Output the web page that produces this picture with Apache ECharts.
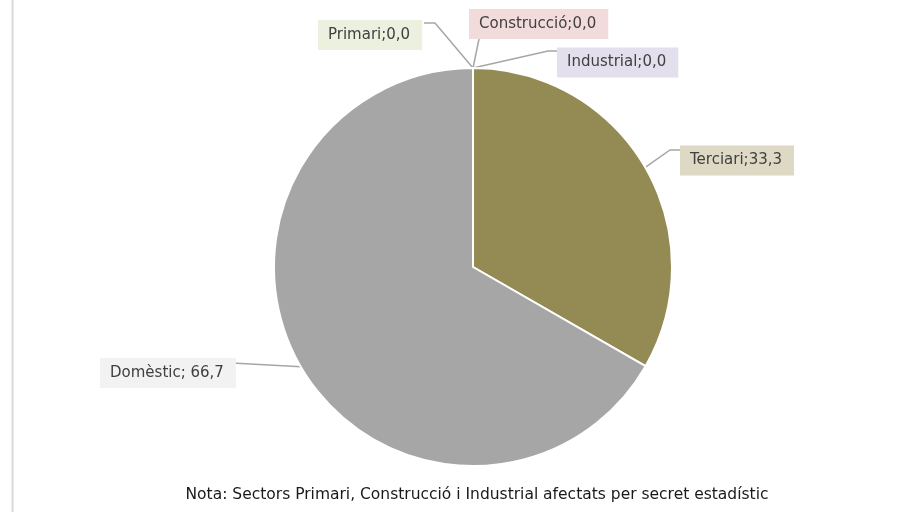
<!DOCTYPE html>
<html>
<head>
<meta charset="utf-8">
<script src="https://cdn.jsdelivr.net/npm/echarts@6/dist/echarts.min.js"></script>
<style>html,body{margin:0;padding:0;background:#fff}#c{width:913px;height:518px}</style>
</head>
<body>
<div id="c"></div>
<script>
const categories = ['Primari', 'Construcció', 'Industrial', 'Terciari', 'Domèstic'];
const values = [0.0, 0.0, 0.0, 33.3, 66.7];
const separators = [';', ';', ';', ';', '; '];
const sliceColors = ['#9BBB59', '#C0504D', '#8064A2', '#948A54', '#A6A6A6'];
const labelBg = ['#EBF1DE', '#F2DCDB', '#E4DFEC', '#DDD9C4', '#F2F2F2'];
const note = 'Nota: Sectors Primari, Construcció i Industrial afectats per secret estadístic';

// label placement (box left, box center y, line bend, line end)
const labelPlace = [
  {x: 318, y: 35, bend: [435, 23], end: [424, 23]},
  {x: 469, y: 24, bend: null, end: [479, 39]},
  {x: 557, y: 62.5, bend: [548, 51], end: [557, 51]},
  {x: 680, y: 160.5, bend: [670, 150], end: [680, 150]},
  {x: 100, y: 373, bend: null, end: [232, 363]}
];

const chart = echarts.init(document.getElementById('c'), null, {renderer: 'canvas'});
const FONT = 'DejaVu Sans';
chart.setOption({
  backgroundColor: '#ffffff',
  animation: false,
  graphic: [
    {type: 'line', shape: {x1: 12.5, y1: 0, x2: 12.5, y2: 512}, style: {stroke: '#D9D9D9', lineWidth: 2}},
    {type: 'text', x: 477, y: 495, style: {text: note, fontFamily: FONT, fontSize: 15.5, fill: '#1a1a1a', align: 'center', verticalAlign: 'middle'}}
  ],
  series: [{
    type: 'pie',
    center: [473, 267],
    radius: 199,
    startAngle: 90,
    clockwise: true,
    data: categories.map((n, i) => ({
      name: n, value: values[i],
      itemStyle: {color: sliceColors[i]},
      label: {backgroundColor: labelBg[i]}
    })),
    itemStyle: {borderColor: '#ffffff', borderWidth: 2},
    label: {
      show: true,
      formatter: p => p.name + separators[p.dataIndex] + p.value.toFixed(1).replace('.', ','),
      fontFamily: FONT,
      fontSize: 15,
      color: '#404040',
      padding: [8, 12, 7, 10]
    },
    labelLine: {show: true, lineStyle: {color: '#A6A6A6', width: 1.5}, length: 10, length2: 10},
    labelLayout: function (params) {
      const lp = labelPlace[params.dataIndex];
      const start = params.labelLinePoints ? params.labelLinePoints[0] : [473, 68];
      const pts = lp.bend ? [start, lp.bend, lp.end] : [start, lp.end, lp.end];
      return {
        x: lp.x,
        y: lp.y,
        align: 'left',
        verticalAlign: 'middle',
        labelLinePoints: pts
      };
    }
  }]
});
</script>
</body>
</html>
